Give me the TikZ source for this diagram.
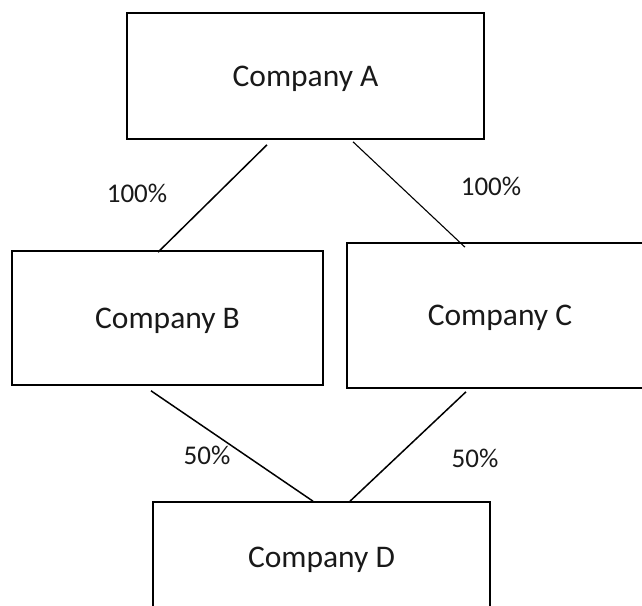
\documentclass[tikz,border=0pt]{standalone}
\usepackage{fontspec}
\setmainfont{Carlito}
\definecolor{inkblack}{RGB}{25, 25, 25}
\tikzset{
  company/.style={draw=black, line width=1.6pt, inner sep=0pt, text depth=0pt,
                  font=\fontsize{31.5}{36}\selectfont, text=inkblack},
  share/.style  ={inner sep=0pt, font=\fontsize{27}{32}\selectfont, text=inkblack},
  link/.style   ={black, line width=1.5pt}
}
\begin{document}
\begin{tikzpicture}[x=1pt, y=-1pt]
            \useasboundingbox                                          (0,0) rectangle (642,605);
            \clip                                                      (0,0) rectangle (642,605);
            \node[company, minimum width=357pt, minimum height=126pt] (compA) at (305.5, 76.0) {Company A};
            \node[company, minimum width=311pt, minimum height=134pt] (compB) at (167.5,318.0) {Company B};
            \node[company, minimum width=306pt, minimum height=145pt] (compC) at (500.0,315.5) {Company C};
            \node[company, minimum width=337pt, minimum height=111pt] (compD) at (321.5,557.5) {Company D};
            \draw[link]                ([xshift=-38.5pt,yshift=-5pt]compA.south) -- ([xshift=-9.5pt,yshift=-2pt]compB.north);
            \draw[link, line width=1.1pt]([xshift=47.5pt,yshift=-2pt]compA.south) -- ([xshift=-35pt,yshift=-5pt]compC.north);
            \draw[link]                ([xshift=-16.5pt,yshift=-5pt]compB.south) -- ([xshift=-8.5pt]compD.north);
            \draw[link]                ([xshift=-34pt,yshift=-3pt]compC.south)   -- ([xshift=28.5pt]compD.north);
            \node[share] (shareAB) at (137.0,193.5) {100\%};
            \node[share] (shareAC) at (491.0,186.0) {100\%};
            \node[share] (shareBD) at (207.0,455.0) {50\%};
            \node[share] (shareCD) at (475.0,458.0) {50\%};
\end{tikzpicture}
\end{document}
